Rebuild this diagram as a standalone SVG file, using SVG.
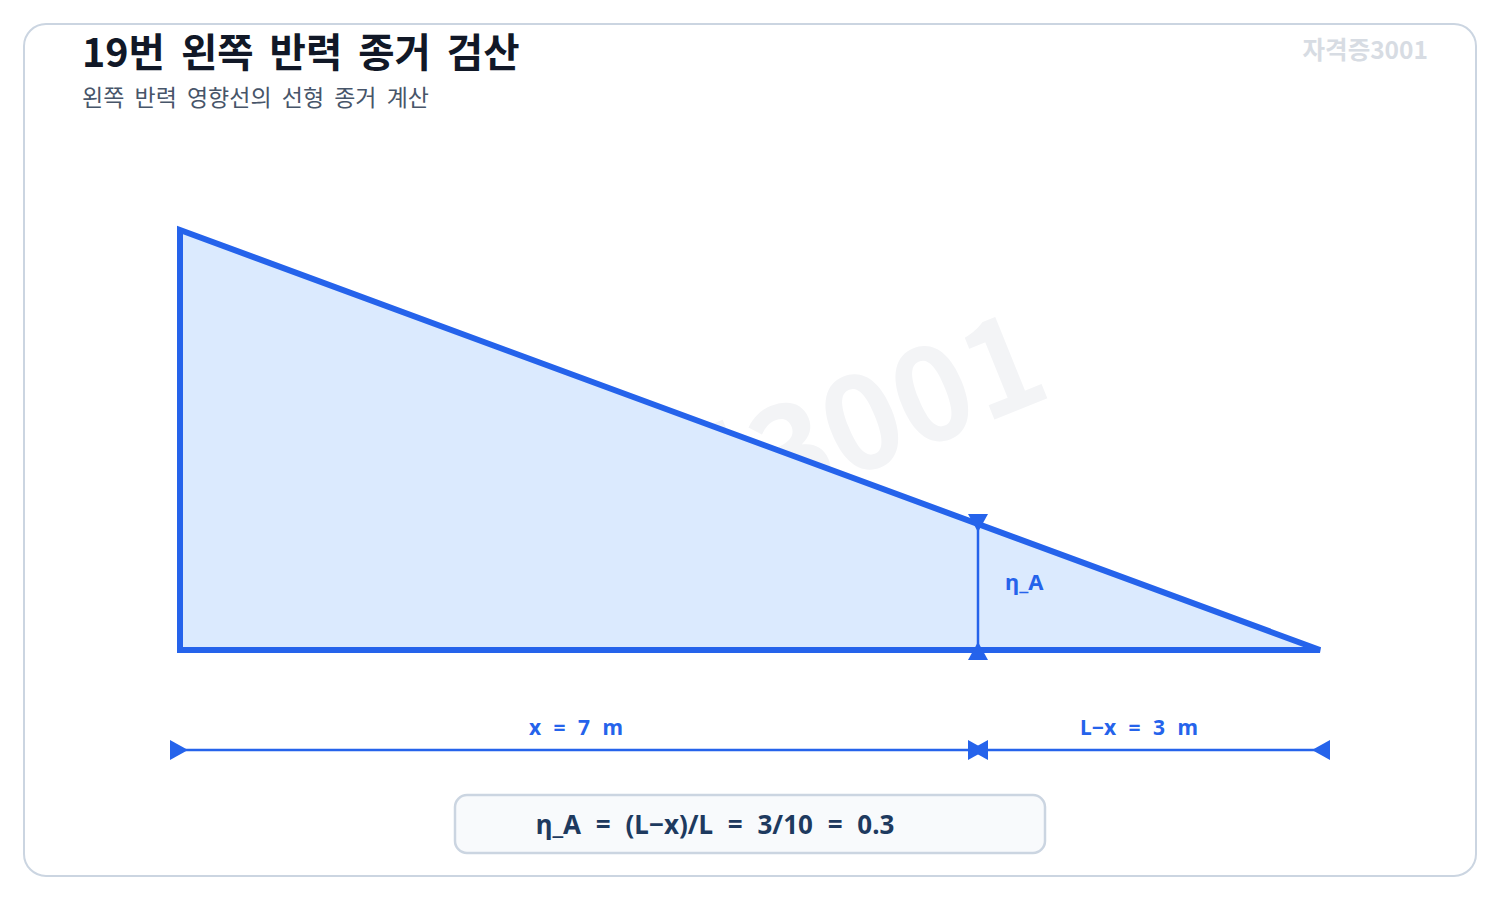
<svg xmlns="http://www.w3.org/2000/svg" width="1500" height="900" viewBox="0 0 1500 900">
  <style>
    .ko { font-family: "Noto Sans CJK KR", "Noto Sans", sans-serif; }
    .lat { font-family: "Noto Sans", "Noto Sans CJK KR", sans-serif; }
    .title { font-size: 39.5px; font-weight: 700; fill: #111827; word-spacing: 7px; }
    .sub { font-size: 23px; font-weight: 400; fill: #475569; word-spacing: 5px; }
    .tag { font-size: 24.5px; font-weight: 700; fill: #d7dce3; }
    .wm { font-size: 128px; font-weight: 700; fill: #f3f4f6; }
    .dim { font-size: 21px; font-weight: 700; fill: #2563eb; word-spacing: 7px; }
    .eta { font-size: 22px; font-weight: 700; fill: #2563eb; }
    .formula { font-size: 26px; font-weight: 700; fill: #1e3a5f; word-spacing: 8px; }
    .conn { stroke: #2563eb; stroke-width: 2.5; fill: none; }
  </style>
  <defs>
    <marker id="arr" markerUnits="userSpaceOnUse" markerWidth="20" markerHeight="20" viewBox="0 0 20 20" refX="10" refY="10" orient="auto">
      <path d="M0,0 L18,10 L0,20 z" fill="#2563eb"/>
    </marker>
    <marker id="arrRev" markerUnits="userSpaceOnUse" markerWidth="20" markerHeight="20" viewBox="0 0 20 20" refX="10" refY="10" orient="auto">
      <path d="M20,0 L2,10 L20,20 z" fill="#2563eb"/>
    </marker>
  </defs>

  <rect x="24" y="24" width="1452" height="852" rx="22" fill="#ffffff" stroke="#cbd5e1" stroke-width="2"/>

  <text class="ko wm" x="751" y="518" text-anchor="middle" transform="rotate(-22 751 518)">자격증3001</text>

  <g id="header">
    <text class="ko title" x="82" y="67">19번 왼쪽 반력 종거 검산</text>
    <text class="ko sub" x="82" y="106">왼쪽 반력 영향선의 선형 종거 계산</text>
    <text class="ko tag" x="1428" y="59" text-anchor="end">자격증3001</text>
  </g>

  <g id="influence-line">
    <polygon points="180,230 180,650 1320,650" fill="#dbeafe" stroke="#2563eb" stroke-width="6"/>
  </g>

  <g id="connectors">
    <line class="conn" x1="978" y1="524" x2="978" y2="650" marker-start="url(#arr)" marker-end="url(#arrRev)"/>
    <line class="conn" x1="180" y1="750" x2="978" y2="750" marker-start="url(#arr)" marker-end="url(#arr)"/>
    <line class="conn" x1="1320" y1="750" x2="978" y2="750" marker-start="url(#arr)" marker-end="url(#arr)"/>
  </g>

  <g id="eta-label">
    <text class="lat eta" x="1005" y="590">η_A</text>
  </g>

  <g id="dim-x">
    <text class="lat dim" x="576" y="735" text-anchor="middle">x = 7 m</text>
  </g>
  <g id="dim-lx">
    <text class="lat dim" x="1139" y="735" text-anchor="middle">L−x = 3 m</text>
  </g>

  <g id="formula">
    <rect x="455" y="795" width="590" height="58" rx="12" fill="#f8fafc" stroke="#cbd5e1" stroke-width="2.5"/>
    <text class="lat formula" x="715" y="834" text-anchor="middle">η_A = (L−x)/L = 3/10 = 0.3</text>
  </g>
</svg>
